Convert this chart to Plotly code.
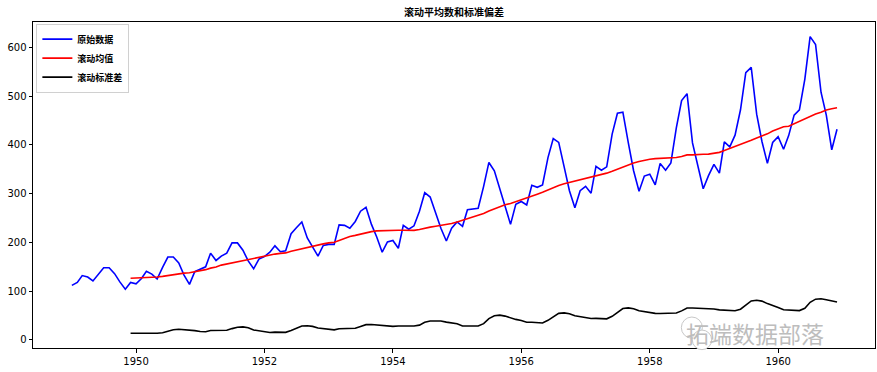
import pandas as pd
import plotly.graph_objects as go

months = pd.date_range("1949-01-01", "1960-12-01", freq="MS")
passengers = [
    112, 118, 132, 129, 121, 135, 148, 148, 136, 119, 104, 118,
    115, 126, 141, 135, 125, 149, 170, 170, 158, 133, 114, 140,
    145, 150, 178, 163, 172, 178, 199, 199, 184, 162, 146, 166,
    171, 180, 193, 181, 183, 218, 230, 242, 209, 191, 172, 194,
    196, 196, 236, 235, 229, 243, 264, 272, 237, 211, 180, 201,
    204, 188, 235, 227, 234, 264, 302, 293, 259, 229, 203, 229,
    242, 233, 267, 269, 270, 315, 364, 347, 312, 274, 237, 278,
    284, 277, 317, 313, 318, 374, 413, 405, 355, 306, 271, 306,
    315, 301, 356, 348, 355, 422, 465, 467, 404, 347, 305, 336,
    340, 318, 362, 348, 363, 435, 491, 505, 404, 359, 310, 337,
    360, 342, 406, 396, 420, 472, 548, 559, 463, 407, 362, 405,
    417, 391, 419, 461, 472, 535, 622, 606, 508, 461, 390, 432,
]
series_names = ["原始数据", "滚动均值", "滚动标准差"]
title_text = "滚动平均数和标准偏差"
watermark = "拓端数据部落"
window = 12

ts = pd.Series(passengers, index=months)
rolmean = ts.rolling(window).mean()
rolstd = ts.rolling(window).std()

CJK = "Noto Sans CJK SC"
colors = ["blue", "red", "black"]
fig = go.Figure()
for name, s, c in zip(series_names, [ts, rolmean, rolstd], colors):
    fig.add_trace(go.Scatter(x=s.index, y=s.values, mode="lines", name=f"<b>{name}</b>",
                             line=dict(color=c, width=1.6)))

axis_common = dict(showline=True, linecolor="black", linewidth=1, mirror=True,
                   ticks="outside", ticklen=3.5, tickcolor="black", showgrid=False,
                   zeroline=False, tickfont=dict(family="DejaVu Sans", size=10, color="black"))

fig.update_layout(
    width=877, height=372,
    margin=dict(l=33, r=2, t=22, b=24),
    paper_bgcolor="white", plot_bgcolor="white",
    title=dict(text=f"<b>{title_text}</b>", x=0.5, xref="paper", xanchor="center",
               y=0.975, yanchor="top",
               font=dict(family=CJK, size=10, color="black")),
    xaxis=dict(range=["1948-05-25", "1961-07-05"], dtick="M24", tick0="1950-01-01",
               tickformat="%Y", **axis_common),
    yaxis=dict(range=[-16.5, 652], dtick=100, **axis_common),
    legend=dict(x=0.004, y=0.995, xanchor="left", yanchor="top",
                bgcolor="rgba(255,255,255,0.8)", bordercolor="#d0d0d0", borderwidth=1,
                font=dict(family=CJK, size=9, color="black"),
                tracegroupgap=0, itemwidth=30),
    showlegend=True,
)
# watermark
fig.add_annotation(xref="paper", yref="paper", x=0.942, y=0.045, xanchor="right", yanchor="middle",
                   text=watermark, showarrow=False,
                   font=dict(family=CJK, size=23, color="#bdbdbd"))
fig.add_shape(type="circle", xref="paper", yref="paper", x0=0.770, x1=0.795, y0=0.03, y1=0.095,
              line=dict(color="#c8c8c8", width=1), fillcolor="rgba(255,255,255,0)")
fig.add_shape(type="circle", xref="paper", yref="paper", x0=0.783, x1=0.806, y0=-0.005, y1=0.055,
              line=dict(color="#c8c8c8", width=1), fillcolor="white")
fig.write_html("out.html")
